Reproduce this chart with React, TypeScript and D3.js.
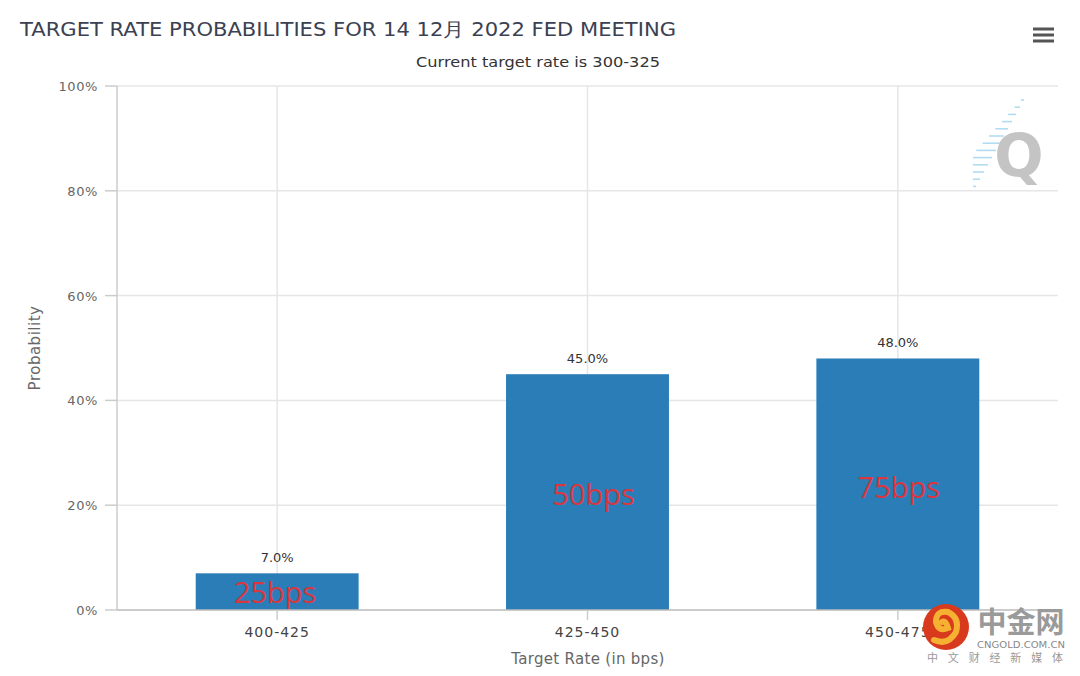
import React, { useRef, useEffect } from 'react';
import * as d3 from 'd3';

const categories = ['400-425', '425-450', '450-475'];
const probabilities = [7.0, 45.0, 48.0];
const moveLabels = ['25bps', '50bps', '75bps'];
const yTicks = [0, 20, 40, 60, 80, 100];

const W = 1080;
const H = 676;

const App: React.FC = () => {
  const svgRef = useRef<SVGSVGElement>(null);

  useEffect(() => {
    if (!svgRef.current) return;
    const svg = d3.select(svgRef.current);
    svg.selectAll('*').remove();

    const font = '"DejaVu Sans", Verdana, sans-serif';
    const left = 117;
    const right = 1058;
    const top = 86;
    const bottom = 610;

    const x = d3.scaleBand().domain(categories).range([122, 1053]).paddingInner(0.475).paddingOuter(0.2375);
    const y = d3.scaleLinear().domain([0, 100]).range([bottom, top]);

    svg.append('rect').attr('width', W).attr('height', H).attr('fill', '#fff');

    // title + subtitle
    svg.append('text')
      .attr('x', 20).attr('y', 36)
      .attr('textLength', 656).attr('lengthAdjust', 'spacingAndGlyphs')
      .style('font-family', font).style('font-size', '19px').style('fill', '#3b4152')
      .text('TARGET RATE PROBABILITIES FOR 14 12月 2022 FED MEETING');
    svg.append('text')
      .attr('x', 416).attr('y', 67)
      .attr('textLength', 244).attr('lengthAdjust', 'spacingAndGlyphs')
      .style('font-family', font).style('font-size', '14px').style('fill', '#333')
      .text('Current target rate is 300-325');

    // menu icon
    [29, 35, 41].forEach((yy) => {
      svg.append('rect').attr('x', 1033).attr('y', yy - 1.5).attr('width', 21).attr('height', 3).attr('fill', '#555');
    });

    // horizontal grid
    svg.append('g').selectAll('line').data(yTicks.slice(1)).enter().append('line')
      .attr('x1', left).attr('x2', right)
      .attr('y1', (d) => y(d)).attr('y2', (d) => y(d))
      .attr('stroke', '#e6e6e6').attr('stroke-width', 1.5);

    // vertical grid at category centres
    svg.append('g').selectAll('line').data(categories).enter().append('line')
      .attr('x1', (d) => x(d)! + x.bandwidth() / 2).attr('x2', (d) => x(d)! + x.bandwidth() / 2)
      .attr('y1', top).attr('y2', bottom)
      .attr('stroke', '#e6e6e6').attr('stroke-width', 1.5);

    // y axis line + ticks
    svg.append('line').attr('x1', left).attr('x2', left).attr('y1', top).attr('y2', bottom)
      .attr('stroke', '#ccc').attr('stroke-width', 1.5);
    const yAxis = svg.append('g');
    yAxis.selectAll('line').data(yTicks).enter().append('line')
      .attr('x1', 105).attr('x2', left).attr('y1', (d) => y(d)).attr('y2', (d) => y(d))
      .attr('stroke', '#ccc').attr('stroke-width', 1.5);
    yAxis.selectAll('text').data(yTicks).enter().append('text')
      .attr('x', 98).attr('y', (d) => y(d) + 5).attr('text-anchor', 'end')
      .style('font-family', font).style('font-size', '13px').style('fill', '#666')
      .style('letter-spacing', '0.6px')
      .text((d) => `${d}%`);

    svg.append('text')
      .attr('transform', `translate(40, ${(top + bottom) / 2}) rotate(-90)`)
      .attr('text-anchor', 'middle')
      .style('font-family', font).style('font-size', '15px').style('fill', '#666')
      .style('letter-spacing', '0.5px')
      .text('Probability');

    // watermark Q
    const wm = svg.append('g');
    for (let i = 0; i < 13; i++) {
      const yy = 100 + i * 7.2;
      const xx = 1024 - i * 4;
      const len = 3 + (i < 8 ? i * 2.4 : (12 - i) * 4);
      wm.append('line').attr('x1', xx - len).attr('x2', xx).attr('y1', yy).attr('y2', yy)
        .attr('stroke', '#b3dcf3').attr('stroke-width', 1.6);
    }
    wm.append('text').attr('x', 1019).attr('y', 176).attr('text-anchor', 'middle')
      .style('font-family', '"DejaVu Sans", sans-serif').style('font-size', '58px').style('font-weight', 'bold')
      .style('fill', '#c4c4c4').text('Q');

    // bars
    svg.append('g').selectAll('rect').data(probabilities).enter().append('rect')
      .attr('x', (_, i) => x(categories[i])!)
      .attr('y', (d) => y(d))
      .attr('width', x.bandwidth())
      .attr('height', (d) => bottom - y(d))
      .attr('fill', '#2b7db8');

    // value labels
    svg.append('g').selectAll('text').data(probabilities).enter().append('text')
      .attr('x', (_, i) => x(categories[i])! + x.bandwidth() / 2)
      .attr('y', (d) => y(d) - 11)
      .attr('text-anchor', 'middle')
      .style('font-family', font).style('font-size', '13px').style('fill', '#333')
      .text((d) => `${d.toFixed(1)}%`);

    // red annotations
    const annY = [603, 505, 498];
    svg.append('g').selectAll('text').data(moveLabels).enter().append('text')
      .attr('x', (_, i) => x(categories[i])! + x.bandwidth() / 2 + [-2, 6, 1][i])
      .attr('y', (_, i) => annY[i])
      .attr('text-anchor', 'middle')
      .style('font-family', '"Open Sans", sans-serif').style('font-size', '29px').style('fill', '#d9363e')
      .text((d) => d);

    // x axis
    svg.append('line').attr('x1', left).attr('x2', right).attr('y1', bottom).attr('y2', bottom)
      .attr('stroke', '#bbb').attr('stroke-width', 1.5);
    const xAxis = svg.append('g');
    xAxis.selectAll('line').data(categories).enter().append('line')
      .attr('x1', (d) => x(d)! + x.bandwidth() / 2).attr('x2', (d) => x(d)! + x.bandwidth() / 2)
      .attr('y1', bottom).attr('y2', bottom + 10)
      .attr('stroke', '#ccc').attr('stroke-width', 1.5);
    xAxis.selectAll('text').data(categories).enter().append('text')
      .attr('x', (d) => x(d)! + x.bandwidth() / 2).attr('y', 637)
      .attr('text-anchor', 'middle')
      .style('font-family', font).style('font-size', '14px').style('fill', '#444')
      .style('letter-spacing', '1px')
      .text((d) => d);
    svg.append('text')
      .attr('x', 588).attr('y', 664).attr('text-anchor', 'middle')
      .style('font-family', font).style('font-size', '15px').style('fill', '#666')
      .style('letter-spacing', '0.3px')
      .text('Target Rate (in bps)');

    // cngold logo
    const logo = svg.append('g');
    logo.append('circle').attr('cx', 946).attr('cy', 627).attr('r', 23).attr('fill', '#d83a1e');
    logo.append('path')
      .attr('d', 'M934,640 Q948,646 956,632 Q960,618 948,612 Q936,610 936,622 Q938,632 948,628 Q946,620 942,622')
      .attr('fill', 'none').attr('stroke', '#f6b133').attr('stroke-width', 6).attr('stroke-linecap', 'round');
    logo.append('text').attr('x', 1021).attr('y', 633).attr('text-anchor', 'middle')
      .style('font-family', '"Noto Sans CJK SC", sans-serif').style('font-size', '29px').style('font-weight', 'bold')
      .style('fill', '#9a9a9a').text('中金网');
    logo.append('text').attr('x', 1021).attr('y', 648).attr('text-anchor', 'middle')
      .attr('textLength', 88).attr('lengthAdjust', 'spacingAndGlyphs')
      .style('font-family', '"DejaVu Sans", sans-serif').style('font-size', '8.5px').style('fill', '#888')
      .text('CNGOLD.COM.CN');
    logo.append('text').attr('x', 927).attr('y', 662)
      .attr('textLength', 136).attr('lengthAdjust', 'spacing')
      .style('font-family', '"Noto Sans CJK SC", sans-serif').style('font-size', '11px').style('fill', '#999')
      .text('中文财经新媒体');
  }, []);

  return (
    <svg ref={svgRef} width={W} height={H} style={{ position: 'absolute', left: 0, top: 0, display: 'block' }} />
  );
};

export default App;
